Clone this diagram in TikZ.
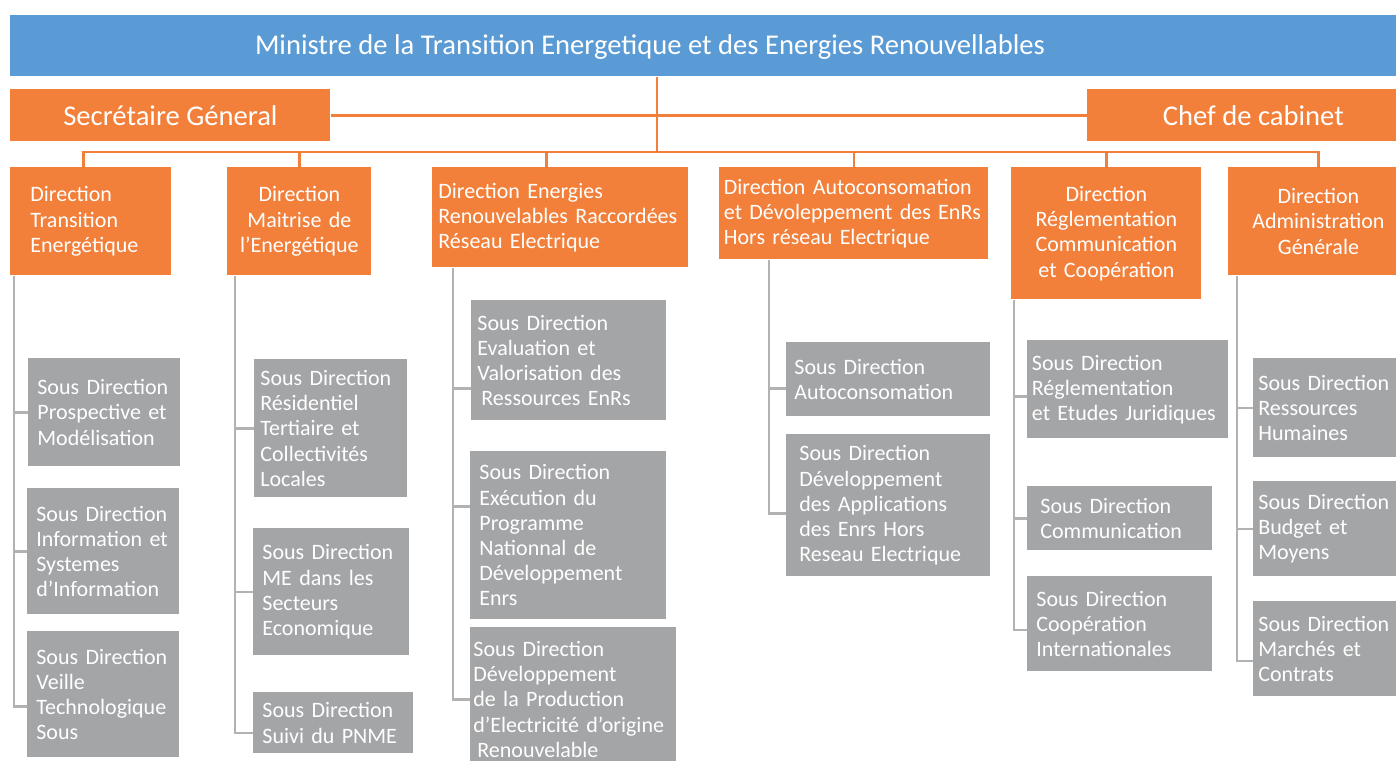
\documentclass[tikz,border=0pt]{standalone}
\usepackage{fontspec}
\setmainfont{Carlito}
\usepackage{xcolor}
\usepackage{tikz}

\definecolor{bleumin}{HTML}{5B9BD5}
\definecolor{orangedir}{HTML}{F2803A}
\definecolor{grissd}{HTML}{A4A5A7}
\definecolor{gristrait}{HTML}{B2B2B2}

\tikzset{
  boite/.style n args={3}{minimum width=#1pt, minimum height=#2pt, text width=#3pt},
  direction/.style={fill=orangedir, text=white, anchor=north west, inner sep=0pt,
    font=\fontsize{11}{12.6}\selectfont},
  sousdir/.style={fill=grissd, text=white, anchor=north west, inner sep=0pt, align=left,
    font=\fontsize{11}{12.6}\selectfont},
  chefbox/.style={fill=orangedir, text=white, anchor=north west, inner sep=0pt,
    font=\fontsize{14.3}{16}\selectfont},
  lienorange/.style={draw=orangedir, line width=1.4pt},
  liengris/.style={draw=gristrait, line width=1.3pt},
}

\begin{document}
\begin{tikzpicture}[x=0.5pt, y=-0.5pt]
    \useasboundingbox (0,0) rectangle (1396,760);

    \node[fill=bleumin, anchor=north west, minimum width=695pt, minimum height=30.5pt, inner sep=0pt] (min) at (10,15) {};
    \node[text=white, font=\fontsize{14.3}{16}\selectfont] (titre) at (650,47) {Ministre de la Transition Energetique et des Energies Renouvellables};

    \node[chefbox, minimum width=160pt, minimum height=26pt] (sg) at (10,89) {Secrétaire Géneral};
    \node[chefbox, minimum width=166pt, minimum height=26pt] (chef) at (1087,89) {Chef de cabinet};

    \node[direction, boite={80.5}{54}{60.5}, align=left] (d1) at (10,167) {Direction\\Transition\\Energétique};
    \node[direction, boite={72}{54}{68}, align=center] (d2) at (227,167) {Direction\\Maitrise de\\l’Energétique};
    \node[direction, boite={128}{50}{122}, align=left] (d3) at (432,167) {Direction Energies\\Renouvelables Raccordées\\Réseau Electrique};
    \node[direction, boite={134.5}{46}{130}, align=left] (d4) at (719,167) {Direction Autoconsomation\\et Dévoleppement des EnRs\\Hors réseau Electrique};
    \node[direction, boite={95}{66}{91}, align=center] (d5) at (1011,167) {Direction\\Réglementation\\Communication\\et Coopération};
    \node[direction, boite={90}{54}{86}, align=center] (d6) at (1228,167) {Direction\\Administration\\Générale};

    \node[sousdir, boite={76}{54}{67}] (s11) at (28,358) {Sous Direction\\Prospective et\\Modélisation};
    \node[sousdir, boite={76}{63}{67}] (s12) at (27,488) {Sous Direction\\Information et\\Systemes\\d’Information};
    \node[sousdir, boite={76}{63}{67}] (s13) at (27,631) {Sous Direction\\Veille\\Technologique\\Sous};

    \node[sousdir, boite={76.5}{69}{70.5}] (s21) at (254,359) {Sous Direction\\Résidentiel\\Tertiaire et\\Collectivités\\Locales};
    \node[sousdir, boite={78}{63.5}{69}] (s22) at (253,528) {Sous Direction\\ME dans les\\Secteurs\\Economique};
    \node[sousdir, boite={80}{30.5}{71}] (s23) at (253,692) {Sous Direction\\Suivi du PNME};

    \node[sousdir, boite={97.5}{60}{91.5}] (s31) at (471,300) {Sous Direction\\Evaluation et\\Valorisation des\\\hspace*{2pt}Ressources EnRs};
    \node[sousdir, boite={98}{84}{89}] (s32) at (470,451) {Sous Direction\\Exécution du\\Programme\\Nationnal de\\Développement\\Enrs};
    \node[sousdir, boite={103}{72}{100}] (s33) at (470,627) {Sous Direction\\Développement\\de la Production\\d’Electricité d’origine\\\hspace*{2pt}Renouvelable};

    \node[sousdir, boite={102}{37}{94}] (s41) at (786,342) {Sous Direction\\Autoconsomation};
    \node[sousdir, boite={102}{71}{89}] (s42) at (786,434) {Sous Direction\\Développement\\des Applications\\des Enrs Hors\\Reseau Electrique};

    \node[sousdir, boite={100.5}{49}{96}] (s51) at (1027,340) {Sous Direction\\Réglementation\\et Etudes Juridiques};
    \node[sousdir, boite={92.5}{32}{79.5}] (s52) at (1027,486) {Sous Direction\\Communication};
    \node[sousdir, boite={92.5}{47.5}{83.5}] (s53) at (1027,576) {Sous Direction\\Coopération\\Internationales};

    \node[sousdir, boite={80}{49.5}{75}] (s61) at (1253,358) {Sous Direction\\Ressources\\Humaines};
    \node[sousdir, boite={80}{47.5}{75}] (s62) at (1253,481) {Sous Direction\\Budget et\\Moyens};
    \node[sousdir, boite={80}{47.5}{75}] (s63) at (1253,601) {Sous Direction\\Marchés et\\Contrats};

    \coordinate (bus) at (657,152);
    \draw[lienorange] (min.south -| bus) -- (bus);
    \draw[lienorange] (sg.east) -- (chef.west);
    \draw[lienorange] ([xshift=-3.75pt]d1.north) |- (bus);
    \draw[lienorange] (d2.north) |- (bus);
    \draw[lienorange] ([xshift=-7pt]d3.north) |- (bus);
    \draw[lienorange] (d4.north) |- (bus);
    \draw[lienorange] (d5.north) |- (bus);
    \draw[lienorange] (d6.north) |- (bus);

    \coordinate (t1) at ([xshift=2pt]d1.south west);
    \coordinate (t2) at ([xshift=4pt]d2.south west);
    \coordinate (t3) at ([xshift=10.5pt]d3.south west);
    \coordinate (t4) at ([xshift=25pt]d4.south west);
    \coordinate (t5) at ([xshift=1.5pt]d5.south west);
    \coordinate (t6) at ([xshift=4.5pt]d6.south west);

    \draw[liengris] (t1) |- (s11.west) (t1) |- (s12.west) (t1) |- ([yshift=-6pt]s13.west);
    \draw[liengris] (t2) |- (s21.west) (t2) |- (s22.west) (t2) |- ([yshift=-5pt]s23.west);
    \draw[liengris] (t3) |- ([yshift=-14pt]s31.west) (t3) |- ([yshift=14.5pt]s32.west) (t3) |- (s33.west);
    \draw[liengris] (t4) |- ([yshift=-4.5pt]s41.west) (t4) |- ([yshift=-4pt]s42.west);
    \draw[liengris] (t5) |- ([yshift=-3.5pt]s51.west) (t5) |- (s52.west) (t5) |- ([yshift=-3pt]s53.west);
    \draw[liengris] (t6) |- (s61.west) (t6) |- (s62.west) (t6) |- ([yshift=-6pt]s63.west);
\end{tikzpicture}
\end{document}
